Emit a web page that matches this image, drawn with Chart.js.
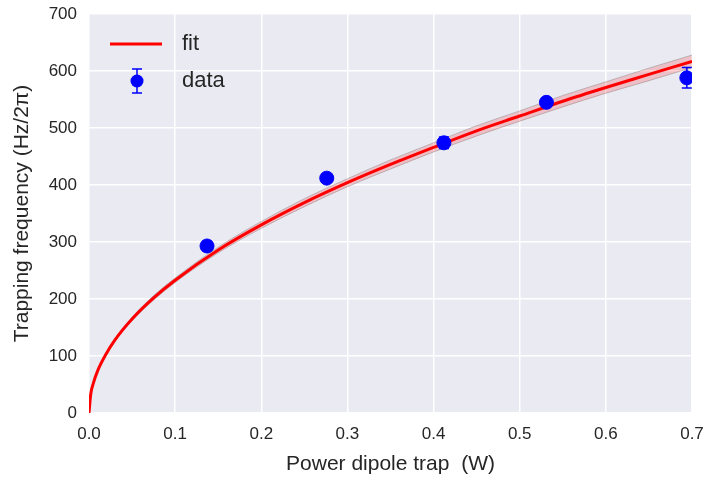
<!DOCTYPE html>
<html>
<head>
<meta charset="utf-8">
<script src="https://cdn.jsdelivr.net/npm/chart.js@4.4.1/dist/chart.umd.min.js"></script>
<style>
  html, body { margin: 0; padding: 0; background: #fff; }
  #wrap { width: 704px; height: 481px; }
</style>
</head>
<body>
<div id="wrap"><canvas id="chart" width="704" height="481"></canvas></div>
<script>
// measured points
const dataX = [0.137, 0.276, 0.412, 0.531, 0.694];
const dataY = [293, 412, 474, 545, 588];
const dataErr = [8, 7, 10, 7, 18];

// fit curve and its confidence band
const fitX = [0, 0.002, 0.005, 0.01, 0.02, 0.03, 0.05, 0.075, 0.1, 0.15, 0.2, 0.25, 0.3, 0.35, 0.4, 0.45, 0.5, 0.55, 0.6, 0.65, 0.7];
const fitY = [0, 33, 52, 74, 104, 128, 165, 202, 233, 286, 330, 369, 404, 436, 466, 495, 521, 547, 571, 594, 617];
const bandHi = [0, 34, 53, 75, 106, 130, 168, 206, 237, 291, 336, 376, 411, 444, 474, 504, 530, 557, 581, 605, 628];
const bandLo = [0, 32, 51, 73, 102, 126, 162, 198, 229, 281, 324, 362, 397, 428, 458, 486, 512, 537, 561, 583, 606];

const xTicks = [0, 0.1, 0.2, 0.3, 0.4, 0.5, 0.6, 0.7];
const yTicks = [0, 100, 200, 300, 400, 500, 600, 700];

const FONT = "'Liberation Sans', Arial, sans-serif";
const TEXT = '#262626';

const pts = (xs, ys) => xs.map((x, i) => ({ x: x, y: ys[i] }));

const plotBg = {
    id: 'plotBg',
    beforeDraw(chart) {
        const a = chart.chartArea, ctx = chart.ctx;
        ctx.save();
        ctx.fillStyle = '#EAEAF2';
        ctx.fillRect(a.left, a.top, a.right - a.left, a.bottom - a.top);
        ctx.restore();
    }
};

const errorBars = {
    id: 'errorBars',
    afterDatasetsDraw(chart) {
        const a = chart.chartArea, ctx = chart.ctx;
        const xs = chart.scales.x, ys = chart.scales.y;
        ctx.save();
        ctx.beginPath();
        ctx.rect(a.left, a.top, a.right - a.left, a.bottom - a.top);
        ctx.clip();
        ctx.strokeStyle = '#0000FF';
        ctx.lineWidth = 1.5;
        dataX.forEach((x, i) => {
            const px = xs.getPixelForValue(x);
            const top = ys.getPixelForValue(dataY[i] + dataErr[i]);
            const bot = ys.getPixelForValue(dataY[i] - dataErr[i]);
            ctx.beginPath();
            ctx.moveTo(px, top); ctx.lineTo(px, bot);
            ctx.moveTo(px - 5, top); ctx.lineTo(px + 5, top);
            ctx.moveTo(px - 5, bot); ctx.lineTo(px + 5, bot);
            ctx.stroke();
        });
        ctx.restore();
    }
};

const legendBox = {
    id: 'legendBox',
    afterDraw(chart) {
        const a = chart.chartArea, ctx = chart.ctx;
        const x0 = a.left + 21, row1 = a.top + 30, row2 = a.top + 67;
        ctx.save();
        ctx.strokeStyle = '#FF0000';
        ctx.lineWidth = 3;
        ctx.beginPath();
        ctx.moveTo(x0, row1); ctx.lineTo(x0 + 52, row1);
        ctx.stroke();

        const mx = x0 + 27;
        ctx.strokeStyle = '#0000FF';
        ctx.lineWidth = 1.5;
        ctx.beginPath();
        ctx.moveTo(mx, row2 - 12); ctx.lineTo(mx, row2 + 12);
        ctx.moveTo(mx - 5, row2 - 12); ctx.lineTo(mx + 5, row2 - 12);
        ctx.moveTo(mx - 5, row2 + 12); ctx.lineTo(mx + 5, row2 + 12);
        ctx.stroke();
        ctx.fillStyle = '#0000FF';
        ctx.beginPath();
        ctx.arc(mx, row2, 6.5, 0, Math.PI * 2);
        ctx.fill();

        ctx.fillStyle = TEXT;
        ctx.font = '22px ' + FONT;
        ctx.textBaseline = 'middle';
        ctx.fillText('fit', x0 + 72, row1);
        ctx.fillText('data', x0 + 72, row2);
        ctx.restore();
    }
};

new Chart(document.getElementById('chart'), {
    type: 'scatter',
    data: {
        datasets: [
            {
                label: 'data',
                data: pts(dataX, dataY),
                backgroundColor: '#0000FF',
                borderColor: '#0000FF',
                pointRadius: 7,
                pointHoverRadius: 7,
                order: 0
            },
            {
                label: 'fit',
                data: pts(fitX, fitY),
                showLine: true,
                borderColor: '#FF0000',
                borderWidth: 3,
                pointRadius: 0,
                cubicInterpolationMode: 'monotone',
                order: 1
            },
            {
                label: 'hi',
                data: pts(fitX, bandHi),
                showLine: true,
                borderColor: 'rgba(140,140,140,0.5)',
                borderWidth: 1,
                backgroundColor: 'rgba(255,0,0,0.18)',
                pointRadius: 0,
                cubicInterpolationMode: 'monotone',
                fill: '+1',
                order: 2
            },
            {
                label: 'lo',
                data: pts(fitX, bandLo),
                showLine: true,
                borderColor: 'rgba(140,140,140,0.5)',
                borderWidth: 1,
                pointRadius: 0,
                cubicInterpolationMode: 'monotone',
                fill: false,
                order: 3
            }
        ]
    },
    options: {
        responsive: false,
        animation: false,
        layout: { padding: { left: 0, top: 14, right: 12, bottom: 0 } },
        plugins: {
            legend: { display: false },
            tooltip: { enabled: false },
            filler: { propagate: false }
        },
        scales: {
            x: {
                type: 'linear',
                min: 0, max: 0.7,
                afterBuildTicks: s => { s.ticks = xTicks.map(v => ({ value: v })); },
                afterFit: s => { s.height = 68; s.paddingLeft = 0; s.paddingRight = 0; },
                grid: { color: '#FFFFFF', lineWidth: 1.5, drawTicks: false },
                border: { display: false },
                ticks: {
                    color: TEXT, padding: 11,
                    font: { family: FONT, size: 17 },
                    callback: v => v.toFixed(1)
                },
                title: {
                    display: true, text: 'Power dipole trap  (W)', color: TEXT,
                    font: { family: FONT, size: 21 }, padding: { top: 0 }
                }
            },
            y: {
                min: 0, max: 700,
                afterBuildTicks: s => { s.ticks = yTicks.map(v => ({ value: v })); },
                afterFit: s => { s.width = 89; s.paddingTop = 0; s.paddingBottom = 0; },
                grid: { color: '#FFFFFF', lineWidth: 1.5, drawTicks: false },
                border: { display: false },
                ticks: {
                    color: TEXT, padding: 12,
                    font: { family: FONT, size: 17 }
                },
                title: {
                    display: true, text: 'Trapping frequency (Hz/2π)', color: TEXT,
                    font: { family: FONT, size: 21 }, padding: { top: 10, bottom: 4 }
                }
            }
        }
    },
    plugins: [plotBg, errorBars, legendBox]
});
</script>
</body>
</html>
